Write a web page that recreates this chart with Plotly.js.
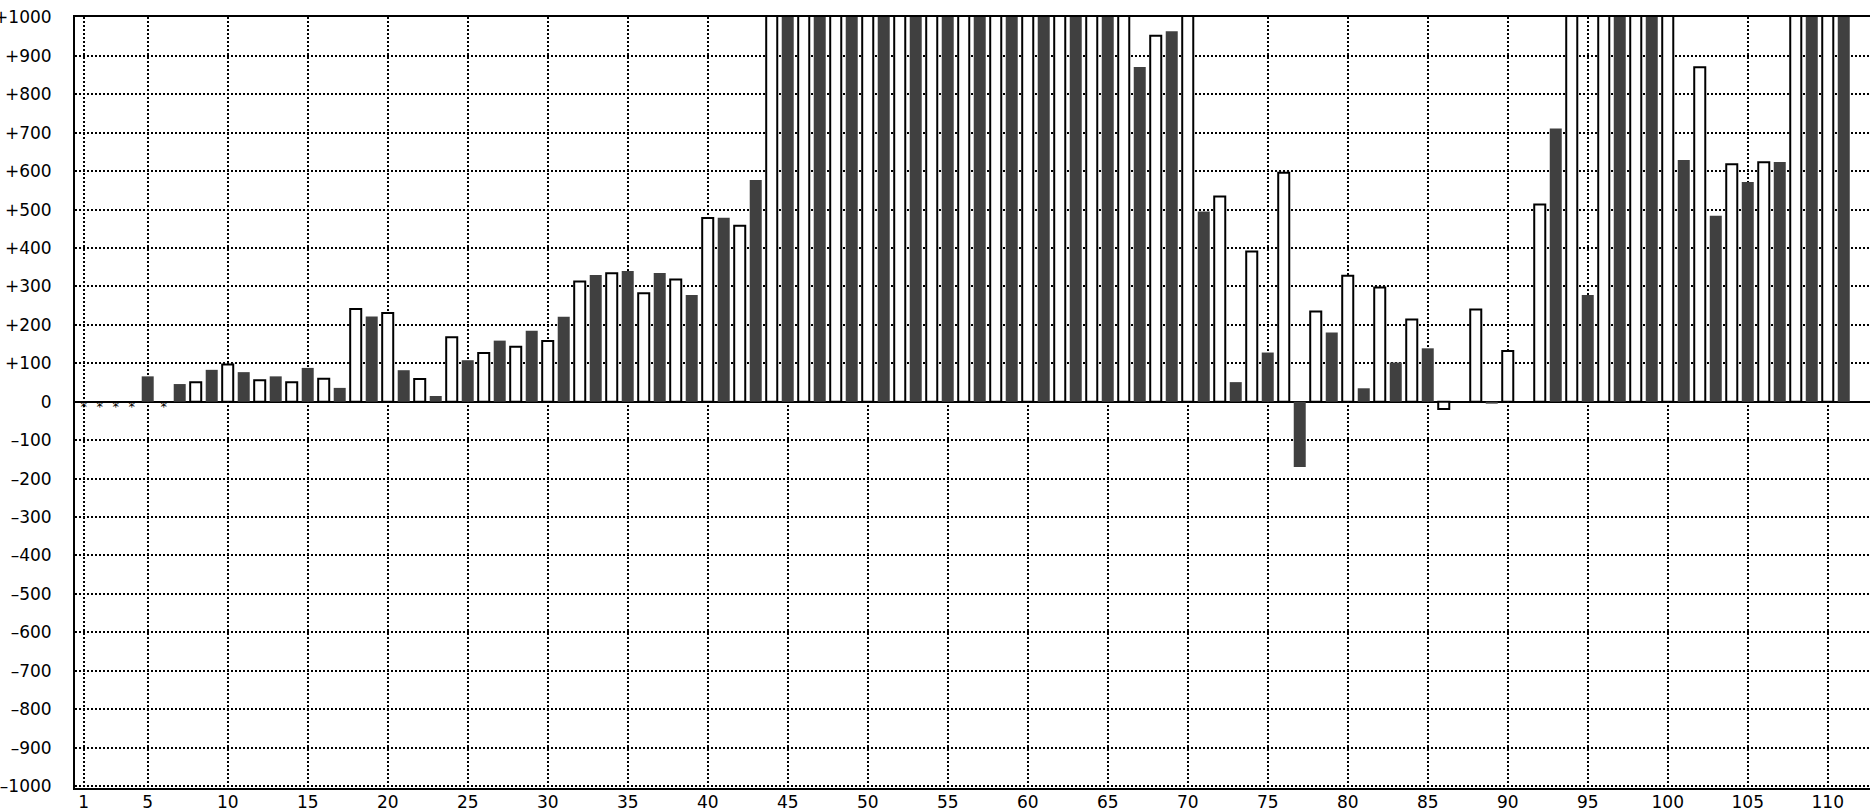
<!DOCTYPE html>
<html>
<head>
<meta charset="utf-8">
<script src="https://cdn.plot.ly/plotly-3.0.1.min.js"></script>
<style>
html,body{margin:0;padding:0;background:#fff;overflow:hidden;}
#chart{width:1870px;height:812px;}
</style>
</head>
<body>
<div id="chart"></div>
<script>
// Dark (filled) bars: position and value
const darkX = [5,7,9,11,13,15,17,19,21,23,25,27,29,31,33,35,37,39,41,43,
  45,47,49,51,53,55,57,59,61,63,65,
  67,69,71,73,75,77,79,81,83,85,89,93,95,97,99,101,103,105,107,109,111];
const darkY = [66,46,83,77,66,88,36,222,82,15,108,159,185,221,330,340,335,278,479,577,
  1200,1200,1200,1200,1200,1200,1200,1200,1200,1200,1200,
  871,964,495,51,128,-170,180,35,102,139,-5,711,278,1200,1200,629,484,572,624,1200,1200];

// Light (outlined) bars: position and value
const lightX = [8,10,12,14,16,18,20,22,24,26,28,30,32,34,36,38,40,42,
  44,46,48,50,52,54,56,58,60,62,64,66,
  68,70,72,74,76,78,80,82,84,86,88,90,92,94,96,98,100,102,104,106,108,110];
const lightY = [51,97,56,51,60,241,231,59,168,127,143,158,313,334,282,318,478,458,
  1200,1200,1200,1200,1200,1200,1200,1200,1200,1200,1200,1200,
  952,1200,534,391,596,235,328,297,214,-19,240,132,513,1200,1200,1200,1200,870,618,623,1200,1200];

// Positions with no value (marked with an asterisk on the zero line)
const noDataX = [1,2,3,4,6];
const noDataY = [0,0,0,0,0];

// Tick labels
const xTickVals = [1,5,10,15,20,25,30,35,40,45,50,55,60,65,70,75,80,85,90,95,100,105,110];
const xTickText = ["1","5","10","15","20","25","30","35","40","45","50","55","60","65","70","75","80","85","90","95","100","105","110"];
const yTickVals = [-1000,-900,-800,-700,-600,-500,-400,-300,-200,-100,0,100,200,300,400,500,600,700,800,900,1000];
const yTickText = ["–1000","–900","–800","–700","–600","–500","–400","–300","–200","–100","0","+100","+200","+300","+400","+500","+600","+700","+800","+900","+1000"];

const traces = [
  {
    type: 'bar', x: darkX, y: darkY, width: 0.75,
    marker: {color: '#404040', line: {width: 0}},
    hoverinfo: 'skip'
  },
  {
    type: 'bar', x: lightX, y: lightY, width: 0.69,
    marker: {color: '#ffffff', line: {width: 2, color: '#000000'}},
    hoverinfo: 'skip'
  },
  {
    type: 'scatter', mode: 'text', x: noDataX, y: noDataY,
    text: noDataX.map(() => '*'), textposition: 'bottom center',
    textfont: {family: 'DejaVu Sans', size: 13, color: '#000'},
    cliponaxis: false, hoverinfo: 'skip'
  }
];

const layout = {
  width: 1870, height: 812,
  margin: {l: 75, r: 0, t: 17, b: 24, pad: 0},
  paper_bgcolor: '#ffffff', plot_bgcolor: '#ffffff',
  showlegend: false, barmode: 'overlay',
  font: {family: 'DejaVu Sans', size: 17, color: '#000'},
  xaxis: {
    range: [0.456, 112.64], tickmode: 'array', tickvals: xTickVals, ticktext: xTickText,
    showgrid: true, gridcolor: '#000', gridwidth: 2, griddash: '2px,2px',
    zeroline: false, showline: true, linecolor: '#000', linewidth: 2, mirror: true,
    ticks: '', ticklabelstandoff: -2,
    tickfont: {family: 'DejaVu Sans', size: 17, color: '#000'},
    fixedrange: true
  },
  yaxis: {
    range: [-1005, 1001], tickmode: 'array', tickvals: yTickVals, ticktext: yTickText,
    showgrid: true, gridcolor: '#000', gridwidth: 2, griddash: '2px,2px',
    zeroline: true, zerolinecolor: '#000', zerolinewidth: 2,
    showline: true, linecolor: '#000', linewidth: 2, mirror: false,
    ticks: '', ticklabelstandoff: 18,
    tickfont: {family: 'DejaVu Sans', size: 17, color: '#000'},
    fixedrange: true
  }
};

Plotly.newPlot('chart', traces, layout, {staticPlot: true, displayModeBar: false});
</script>
</body>
</html>
